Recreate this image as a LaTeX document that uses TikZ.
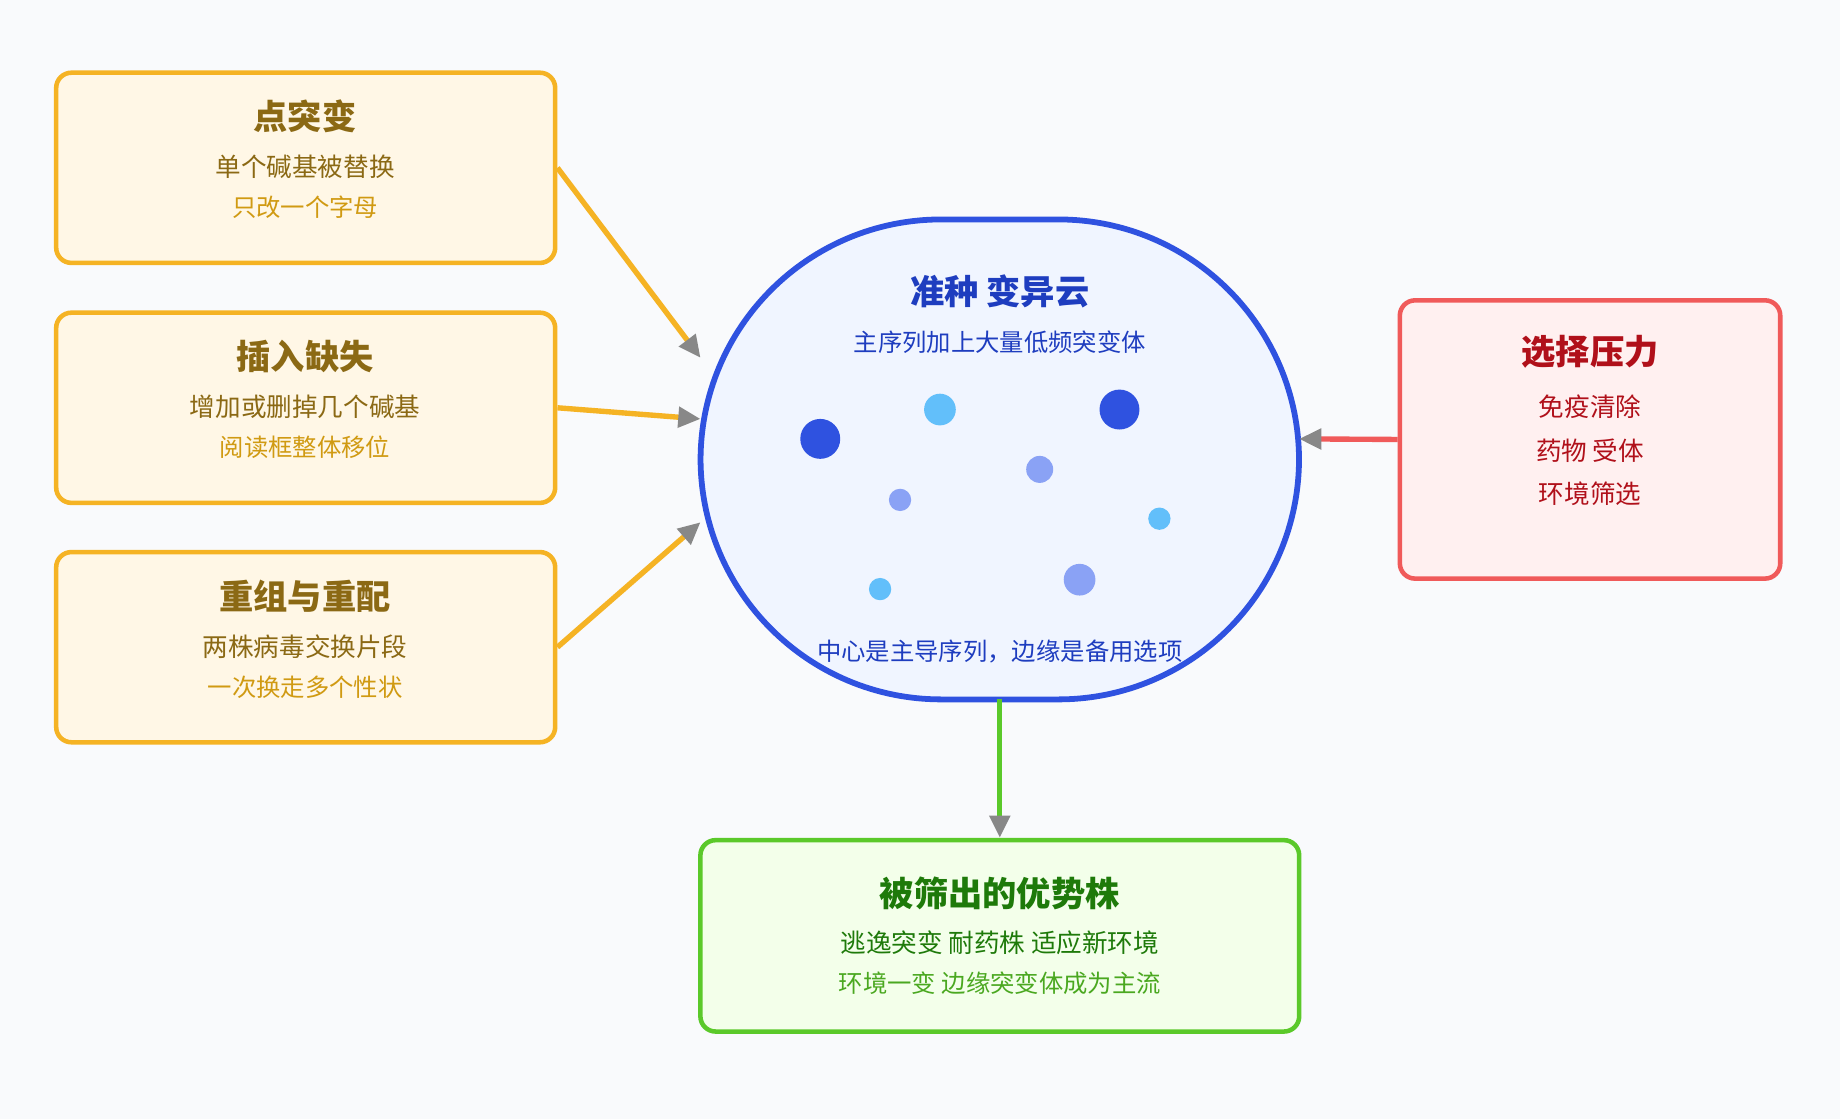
\documentclass[tikz,border=0pt]{standalone}
\usepackage{fontspec}
\setmainfont{Noto Sans CJK SC}
\usetikzlibrary{arrows.meta}
\definecolor{bgpaper}{HTML}{F9FAFC}
\definecolor{mutline}{HTML}{F5B324}
\definecolor{mutfill}{HTML}{FFF7E6}
\definecolor{muttext}{HTML}{8B6914}
\definecolor{mutsoft}{HTML}{D09A12}
\definecolor{cloudline}{HTML}{2F52E0}
\definecolor{cloudfill}{HTML}{F0F5FF}
\definecolor{cloudtext}{HTML}{1E3DBF}
\definecolor{dotdark}{HTML}{2F52E0}
\definecolor{dotmid}{HTML}{8AA2F5}
\definecolor{dotlight}{HTML}{62BFFA}
\definecolor{selline}{HTML}{F05A5A}
\definecolor{selfill}{HTML}{FFF0F0}
\definecolor{seltext}{HTML}{B0101A}
\definecolor{winline}{HTML}{5BC92A}
\definecolor{winfill}{HTML}{F3FFEA}
\definecolor{wintext}{HTML}{1E7A0A}
\definecolor{winsoft}{HTML}{4AA820}
\definecolor{tipgray}{HTML}{888888}

\begin{document}
\begin{tikzpicture}[
  x=0.01cm, y=-0.01cm,
  box/.style={rectangle, rounded corners=0.13cm, line width=1.1pt, minimum width=4.25cm, minimum height=1.62cm},
  mutbox/.style={box, draw=mutline, fill=mutfill},
  title/.style={font=\bfseries\fontsize{8.3}{10}\selectfont},
  body/.style={font=\fontsize{6.2}{7.5}\selectfont},
  note/.style={font=\fontsize{5.9}{7}\selectfont},
  link/.style={line width=1.3pt, -{Triangle[length=0.19cm, width=0.17cm, color=tipgray, fill=tipgray]}},
  dot/.style={circle, draw=none, inner sep=0pt}
]
\fill[bgpaper] (0,0) rectangle (1568,954);

% Mutation sources
\node[mutbox] (pm) at (260.5,143) {};
\node[title, text=muttext] at (260,99) {点突变};
\node[body, text=muttext] at (260,142) {单个碱基被替换};
\node[note, text=mutsoft] at (260,177) {只改一个字母};

\node[mutbox] (indel) at (260.5,347.5) {};
\node[title, text=muttext] at (260,304) {插入缺失};
\node[body, text=muttext] at (260,347) {增加或删掉几个碱基};
\node[note, text=mutsoft] at (260,381) {阅读框整体移位};

\node[mutbox] (recomb) at (260.5,551.5) {};
\node[title, text=muttext] at (260,508) {重组与重配};
\node[body, text=muttext] at (260,551) {两株病毒交换片段};
\node[note, text=mutsoft] at (260,586) {一次换走多个性状};

% Cloud
\draw[draw=cloudline, fill=cloudfill, line width=1.4pt, rounded corners=2.05cm]
  (597,187) rectangle (1107,596);
\coordinate (cA) at (597,305);
\coordinate (cB) at (597,357);
\coordinate (cC) at (597,445);
\coordinate (cR) at (1107,374);
\coordinate (cD) at (852,596);
\node[title, text=cloudtext] at (852,248) {准种 变异云};
\node[note, text=cloudtext] at (852,292) {主序列加上大量低频突变体};
\node[note, text=cloudtext] at (852,555) {中心是主导序列，边缘是备用选项};
\node[dot, fill=dotdark, minimum size=0.34cm] (d1) at (699,374) {};
\node[dot, fill=dotlight, minimum size=0.27cm] (d2) at (801,349) {};
\node[dot, fill=dotdark, minimum size=0.34cm] (d3) at (954,349) {};
\node[dot, fill=dotmid, minimum size=0.23cm] (d4) at (886,400) {};
\node[dot, fill=dotmid, minimum size=0.19cm] (d5) at (767,426) {};
\node[dot, fill=dotlight, minimum size=0.19cm] (d6) at (988,442) {};
\node[dot, fill=dotlight, minimum size=0.19cm] (d7) at (750,502) {};
\node[dot, fill=dotmid, minimum size=0.27cm] (d8) at (920,494) {};

% Selection
\node[box, draw=selline, fill=selfill, minimum width=3.24cm, minimum height=2.37cm] (sel) at (1355,374.5) {};
\node[title, text=seltext] at (1355,300) {选择压力};
\node[body, text=seltext] at (1355,347) {免疫清除};
\node[body, text=seltext] at (1355,384) {药物 受体};
\node[body, text=seltext] at (1355,421) {环境筛选};

% Winners
\node[box, draw=winline, fill=winfill, minimum width=5.1cm, minimum height=1.63cm] (win) at (852,797.5) {};
\node[title, text=wintext] at (852,761) {被筛出的优势株};
\node[body, text=wintext] at (852,803) {逃逸突变 耐药株 适应新环境};
\node[note, text=winsoft] at (852,838) {环境一变 边缘突变体成为主流};

% Arrows
\draw[link, mutline] (pm.east) -- (cA);
\draw[link, mutline] (indel.east) -- (cB);
\draw[link, mutline] (recomb.east) -- (cC);
\draw[link, selline] (sel.west) -- (cR);
\draw[link, winline] (cD) -- (win.north);
\end{tikzpicture}
\end{document}
